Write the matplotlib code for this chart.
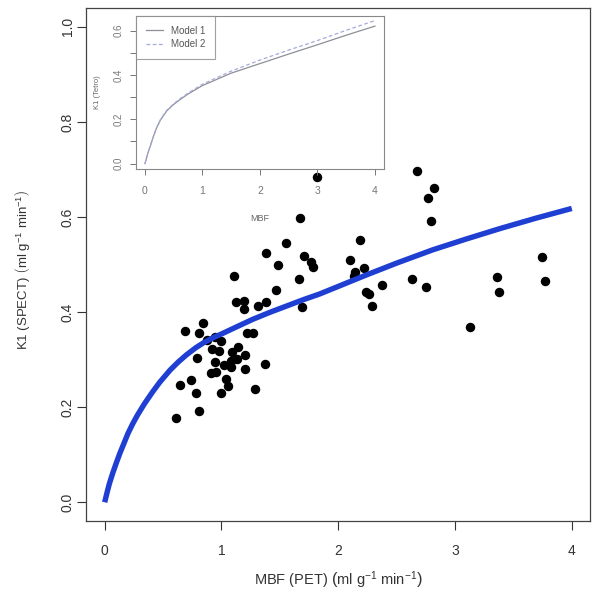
import numpy as np
import matplotlib.pyplot as plt

plt.rcParams['font.family'] = ['Liberation Sans', 'DejaVu Sans']
plt.rcParams['mathtext.fontset'] = 'custom'
plt.rcParams['mathtext.rm'] = 'Liberation Sans'
plt.rcParams['mathtext.it'] = 'Liberation Sans:italic'

# Puntos: MBF por PET frente a K1 por SPECT
mbf_pet = [2.671, 2.819, 2.765, 2.796, 1.819, 1.673, 2.185, 1.703, 1.769, 1.785,
           1.662, 2.102, 2.142, 2.136, 2.222, 2.237, 2.265, 2.373, 2.285, 2.628,
           2.748, 3.128, 3.362, 3.379, 3.742, 3.768, 1.690, 1.557, 1.380, 1.485,
           1.111, 1.465, 1.123, 1.191, 1.191, 1.314, 1.380, 0.686, 0.842, 0.808,
           1.219, 1.271, 0.880, 0.943, 1.000, 0.923, 0.977, 1.142, 1.091, 1.200,
           0.794, 0.943, 1.080, 1.134, 1.022, 1.080, 1.377, 1.206, 0.908, 0.957,
           0.737, 0.649, 1.037, 1.057, 1.285, 0.786, 1.000, 0.806, 0.608]
k1_spect = [0.697, 0.661, 0.641, 0.591, 0.685, 0.597, 0.551, 0.519, 0.506, 0.495,
            0.470, 0.509, 0.484, 0.476, 0.493, 0.443, 0.439, 0.458, 0.413, 0.470,
            0.453, 0.369, 0.474, 0.442, 0.515, 0.466, 0.411, 0.545, 0.525, 0.499,
            0.476, 0.446, 0.421, 0.424, 0.406, 0.413, 0.422, 0.361, 0.378, 0.357,
            0.357, 0.355, 0.341, 0.348, 0.340, 0.322, 0.319, 0.327, 0.317, 0.309,
            0.304, 0.295, 0.297, 0.301, 0.289, 0.284, 0.291, 0.280, 0.271, 0.273,
            0.257, 0.247, 0.259, 0.245, 0.239, 0.229, 0.230, 0.192, 0.178]

# Curva ajustada (azul), leida punto a punto
fit_x = [0.0, 0.02, 0.04, 0.07, 0.1, 0.13, 0.17, 0.2, 0.24, 0.28, 0.34, 0.41,
         0.47, 0.56, 0.63, 0.70, 0.78, 0.85, 0.92, 1.0, 1.13, 1.27, 1.42, 1.56,
         1.70, 1.84, 2.0, 2.24, 2.5, 2.81, 3.1, 3.39, 3.7, 4.0]
fit_y = [0.0, 0.020, 0.039, 0.062, 0.083, 0.103, 0.127, 0.145, 0.165, 0.183,
         0.207, 0.232, 0.252, 0.278, 0.295, 0.310, 0.325, 0.336, 0.345, 0.354,
         0.369, 0.385, 0.400, 0.413, 0.426, 0.438, 0.454, 0.478, 0.503, 0.531,
         0.554, 0.576, 0.598, 0.618]

# Recuadro: los dos modelos
model_x = [0.0, 0.03, 0.06, 0.09, 0.14, 0.2, 0.27, 0.38, 0.5, 0.61, 0.75, 1.0,
           1.5, 2.0, 2.5, 3.0, 3.5, 4.0]
model1_y = [0.0, 0.028, 0.055, 0.077, 0.117, 0.160, 0.197, 0.238, 0.267, 0.289,
            0.314, 0.352, 0.408, 0.451, 0.494, 0.536, 0.579, 0.620]
model2_y = [0.0, 0.028, 0.055, 0.077, 0.118, 0.162, 0.199, 0.241, 0.270, 0.293,
            0.318, 0.358, 0.417, 0.467, 0.512, 0.555, 0.601, 0.645]

fig = plt.figure(figsize=(6, 5.99), dpi=100)

# Grafica principal
ax = fig.add_axes([0.1433, 0.1297, 0.8408, 0.8573])
ax.plot(mbf_pet, k1_spect, 'o', color='black', markersize=5.8, zorder=2)
ax.plot(fit_x, fit_y, color='#1f3fd2', linewidth=3.9, solid_capstyle='butt',
        solid_joinstyle='round', zorder=3)
ax.set_xlim(-0.16, 4.16)
ax.set_ylim(-0.04, 1.04)
ax.set_xticks([0, 1, 2, 3, 4])
ax.set_yticks([0.0, 0.2, 0.4, 0.6, 0.8, 1.0])
ax.set_yticklabels(['0.0', '0.2', '0.4', '0.6', '0.8', '1.0'])
ax.tick_params(axis='both', direction='out', length=6.5, width=0.8,
               colors='#333333', labelsize=10)
ax.tick_params(axis='x', pad=9.5)
ax.tick_params(axis='y', pad=1.5, labelrotation=90)
for lab in ax.get_yticklabels():
    lab.set_va('center')
for s in ax.spines.values():
    s.set_color('#444444')
    s.set_linewidth(0.9)
ax.set_xlabel(r'MBF (PET) $\left(\mathrm{ml\ g^{-1}\ min^{-1}}\right)$',
              fontsize=10.5, color='#333333', va='center')
ax.xaxis.set_label_coords(0.5, -0.114)
ax.set_ylabel(r'K1 (SPECT) $\left(\mathrm{ml\ g^{-1}\ min^{-1}}\right)$',
              fontsize=9.5, color='#333333', va='center')
ax.yaxis.set_label_coords(-0.125, 0.49)

# Recuadro
axi = fig.add_axes([0.2263, 0.7174, 0.414, 0.2559], facecolor='none')
axi.plot(model_x, model1_y, color='#8e8e98', linewidth=0.9, label='Model 1')
axi.plot(model_x, model2_y, color='#a4aadc', linewidth=0.9, linestyle=(0, (3, 2)),
         label='Model 2')
axi.set_xlim(-0.16, 4.16)
axi.set_ylim(-0.0256, 0.6656)
axi.set_xticks([0, 1, 2, 3, 4])
axi.set_yticks([0.0, 0.1, 0.2, 0.3, 0.4, 0.5, 0.6])
axi.set_yticklabels(['0.0', '', '0.2', '', '0.4', '', '0.6'])
axi.tick_params(axis='both', direction='out', length=4, width=0.7,
                colors='#777777', labelsize=7)
axi.tick_params(axis='x', pad=8, labelsize=7.5)
axi.tick_params(axis='y', pad=4.5, labelrotation=90)
for lab in axi.get_yticklabels():
    lab.set_va('center')
for s in axi.spines.values():
    s.set_color('#888888')
    s.set_linewidth(0.8)
axi.set_xlabel('MBF', fontsize=6.5, color='#666666', va='center')
axi.xaxis.set_label_coords(0.5, -0.324)
axi.set_ylabel('K1 (Tetro)', fontsize=5.5, color='#666666', va='center')
axi.yaxis.set_label_coords(-0.156, 0.5)
leg = axi.legend(loc='upper left', borderaxespad=0, fancybox=False, fontsize=7,
                 handlelength=1.8, handletextpad=0.85, labelspacing=0.35,
                 borderpad=1.0)
leg.get_frame().set_edgecolor('#888888')
leg.get_frame().set_linewidth(0.8)
for t in leg.get_texts():
    t.set_color('#555555')

plt.savefig('out.png', dpi=100)
